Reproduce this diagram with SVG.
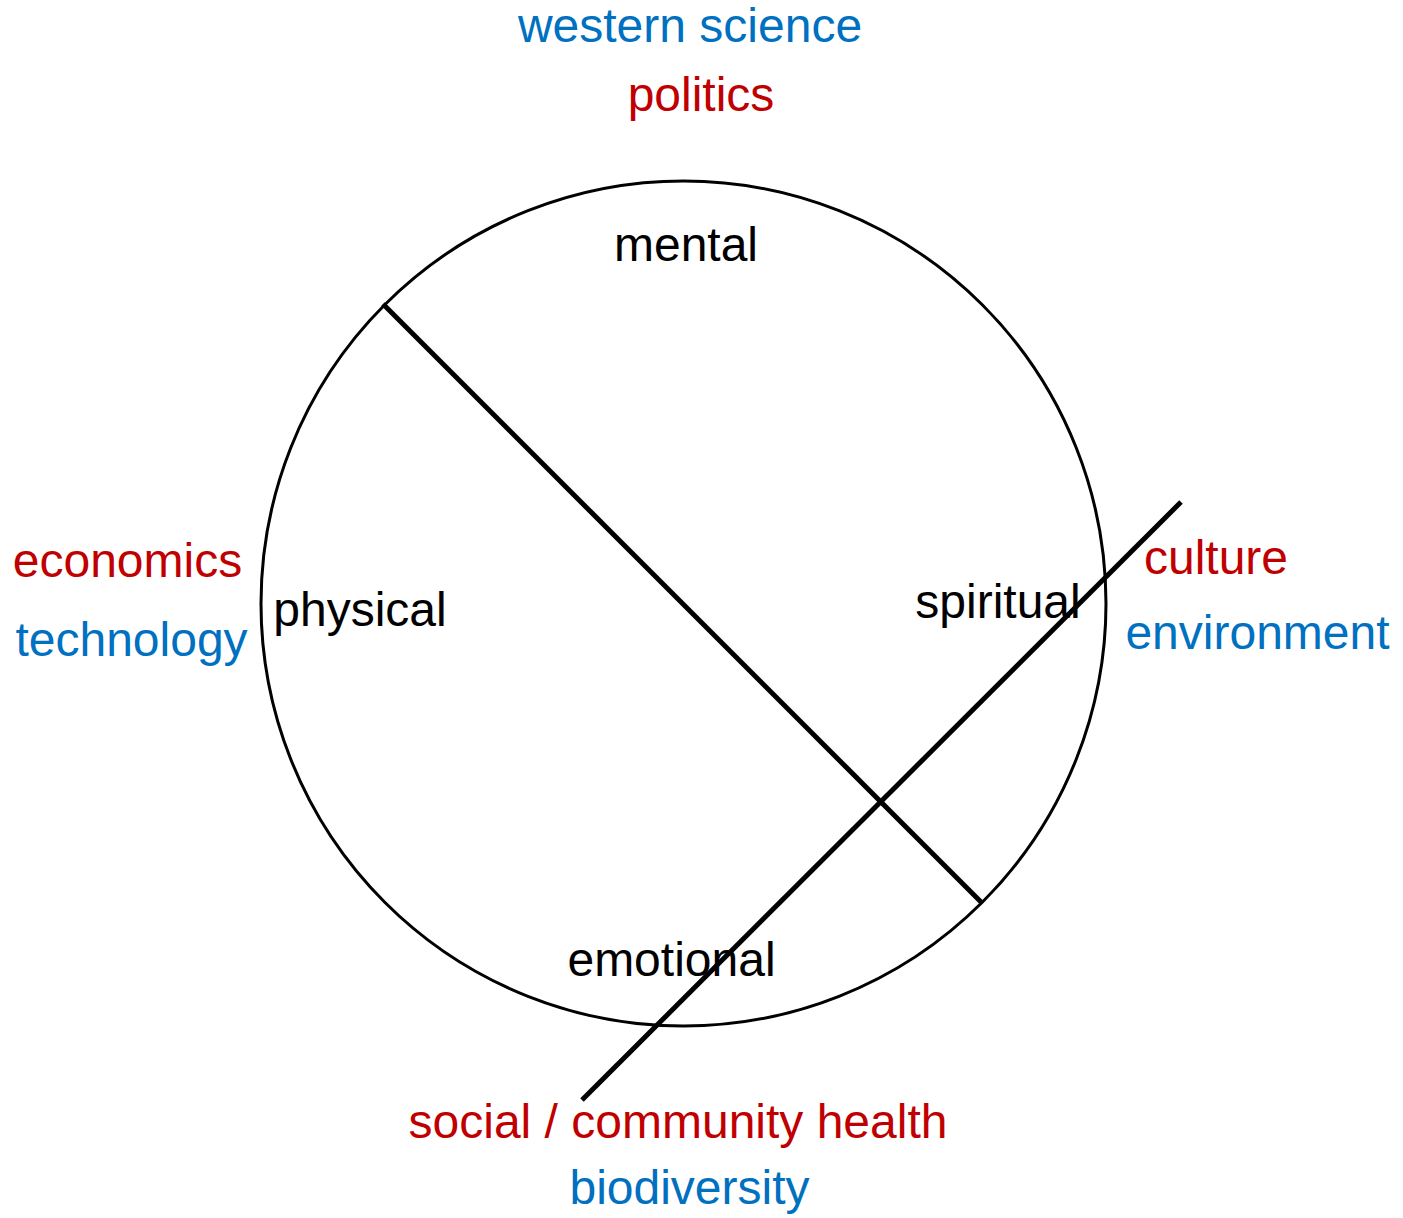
<svg xmlns="http://www.w3.org/2000/svg" width="1403" height="1218" viewBox="0 0 1403 1218">
  <style>
    text { font-family: "Liberation Sans", Arial, sans-serif; font-size: 48px; text-anchor: middle; }
    .dim { fill: #000000; }
    .red { fill: #C00000; }
    .blue { fill: #0070C0; }
    .ring { fill: none; stroke: #000000; stroke-width: 3; }
    .divider { stroke: #000000; stroke-width: 5; fill: none; }
  </style>
  <rect width="1403" height="1218" fill="#ffffff"/>

  <!-- wellbeing circle -->
  <g id="wellbeing-circle">
    <circle class="ring" cx="683.5" cy="603.5" r="422.5"/>
  </g>

  <!-- dividing lines -->
  <g id="connectors">
    <line class="divider" x1="383" y1="304" x2="981" y2="902"/>
    <line class="divider" x1="1181" y1="502" x2="582" y2="1100"/>
  </g>

  <!-- quadrant labels inside the circle -->
  <g id="mental"><text class="dim" x="686" y="261">mental</text></g>
  <g id="physical"><text class="dim" x="360" y="626">physical</text></g>
  <g id="spiritual"><text class="dim" x="998" y="618">spiritual</text></g>
  <g id="emotional"><text class="dim" x="671.5" y="976">emotional</text></g>

  <!-- outer influences -->
  <g id="top-labels">
    <text class="blue" x="690" y="42">western science</text>
    <text class="red" x="701" y="111">politics</text>
  </g>
  <g id="left-labels">
    <text class="red" x="127.5" y="577">economics</text>
    <text class="blue" x="131.5" y="656">technology</text>
  </g>
  <g id="right-labels">
    <text class="red" x="1216" y="574">culture</text>
    <text class="blue" x="1257.5" y="649">environment</text>
  </g>
  <g id="bottom-labels">
    <text class="red" x="678" y="1138">social / community health</text>
    <text class="blue" x="689.5" y="1204">biodiversity</text>
  </g>
</svg>
